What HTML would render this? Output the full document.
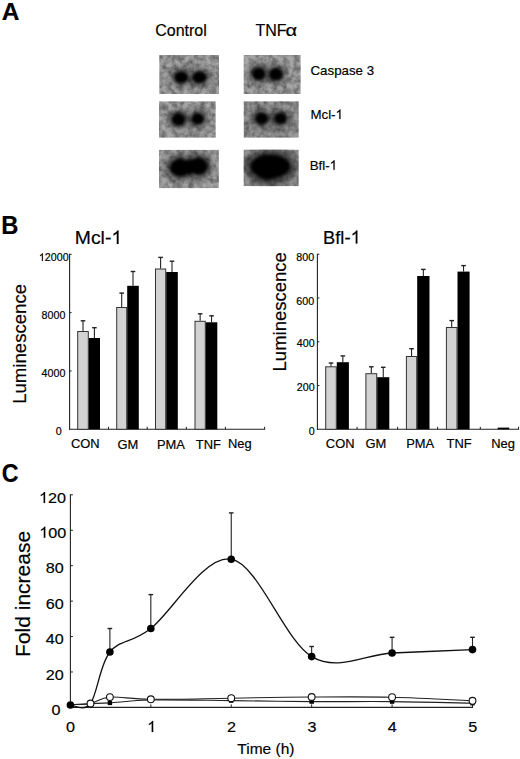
<!DOCTYPE html>
<html><head><meta charset="utf-8"><style>
html,body{margin:0;padding:0;background:#fff;width:520px;height:759px;overflow:hidden}
svg{display:block;font-family:"Liberation Sans",sans-serif}
text{stroke:#000;stroke-width:0.18px}
</style></head><body>
<svg width="520" height="759" viewBox="0 0 520 759">
<defs>
<filter id="blur" x="-50%" y="-50%" width="200%" height="200%"><feGaussianBlur stdDeviation="1.6"/></filter>
<filter id="blur2" x="-50%" y="-50%" width="200%" height="200%"><feGaussianBlur stdDeviation="3"/></filter>
<filter id="noise" x="0" y="0" width="100%" height="100%">
<feTurbulence type="fractalNoise" baseFrequency="0.18" numOctaves="3" seed="3" result="t"/>
<feColorMatrix in="t" type="matrix" values="0 0 0 0 0  0 0 0 0 0  0 0 0 0 0  1.6 0 0 0 -0.5" />
<feComposite in2="SourceGraphic" operator="in"/>
</filter>
</defs>
<rect width="520" height="759" fill="#fff"/>
<text x="1.79" y="19.80" font-size="24.5" font-weight="bold" fill="#000" >A</text>
<text x="155.19" y="35.80" font-size="16" font-weight="normal" fill="#000" >Control</text>
<text x="255.44" y="35.80" font-size="16" font-weight="normal" fill="#000" >TNF</text>
<text transform="translate(285.6,35.8) scale(1.25,1)" font-size="16">α</text>
<clipPath id="cb1"><rect x="159.2" y="55" width="59.80000000000001" height="39"/></clipPath>
<g clip-path="url(#cb1)">
<rect x="159.2" y="55" width="59.80000000000001" height="39" fill="#a6a6a6"/>
<rect x="159.2" y="55" width="59.80000000000001" height="39" fill="#000" opacity="0.48" filter="url(#noise)"/>
<g filter="url(#blur2)" opacity="0.45">
<ellipse cx="181.2" cy="77.2" rx="10.9" ry="9.5" fill="#000"/>
<ellipse cx="199.4" cy="77.2" rx="11.2" ry="9.5" fill="#000"/>
</g>
<g filter="url(#blur)">
<ellipse cx="181.2" cy="77.2" rx="6.9" ry="6.0" fill="#000"/>
<ellipse cx="199.4" cy="77.2" rx="7.2" ry="6.0" fill="#000"/>
</g></g>
<clipPath id="cb2"><rect x="159" y="101.2" width="56.80000000000001" height="36.60000000000001"/></clipPath>
<g clip-path="url(#cb2)">
<rect x="159" y="101.2" width="56.80000000000001" height="36.60000000000001" fill="#a6a6a6"/>
<rect x="159" y="101.2" width="56.80000000000001" height="36.60000000000001" fill="#000" opacity="0.48" filter="url(#noise)"/>
<g filter="url(#blur2)" opacity="0.45">
<ellipse cx="178.5" cy="119.3" rx="10.8" ry="9.7" fill="#000"/>
<ellipse cx="197.7" cy="118.8" rx="10.3" ry="9.3" fill="#000"/>
</g>
<g filter="url(#blur)">
<ellipse cx="178.5" cy="119.3" rx="6.8" ry="6.2" fill="#000"/>
<ellipse cx="197.7" cy="118.8" rx="6.3" ry="5.8" fill="#000"/>
</g></g>
<clipPath id="cb3"><rect x="159" y="149.7" width="59.900000000000006" height="38.60000000000002"/></clipPath>
<g clip-path="url(#cb3)">
<rect x="159" y="149.7" width="59.900000000000006" height="38.60000000000002" fill="#a6a6a6"/>
<rect x="159" y="149.7" width="59.900000000000006" height="38.60000000000002" fill="#000" opacity="0.48" filter="url(#noise)"/>
<g filter="url(#blur2)" opacity="0.5">
<ellipse cx="180.3" cy="167.5" rx="15.3" ry="13.3" fill="#000"/>
<ellipse cx="198.3" cy="166.3" rx="14.3" ry="13.0" fill="#000"/>
<ellipse cx="189.5" cy="167" rx="11" ry="12.0" fill="#000"/>
</g>
<g filter="url(#blur)">
<ellipse cx="180.3" cy="167.5" rx="10.3" ry="8.8" fill="#000"/>
<ellipse cx="198.3" cy="166.3" rx="9.3" ry="8.5" fill="#000"/>
<ellipse cx="189.5" cy="167" rx="6" ry="7.5" fill="#000"/>
</g></g>
<clipPath id="cb4"><rect x="243.5" y="55" width="57.30000000000001" height="39"/></clipPath>
<g clip-path="url(#cb4)">
<rect x="243.5" y="55" width="57.30000000000001" height="39" fill="#a6a6a6"/>
<rect x="243.5" y="55" width="57.30000000000001" height="39" fill="#000" opacity="0.48" filter="url(#noise)"/>
<g filter="url(#blur2)" opacity="0.45">
<ellipse cx="258.8" cy="73.8" rx="10.8" ry="9.8" fill="#000"/>
<ellipse cx="275.8" cy="74.2" rx="10.8" ry="9.8" fill="#000"/>
</g>
<g filter="url(#blur)">
<ellipse cx="258.8" cy="73.8" rx="6.8" ry="6.3" fill="#000"/>
<ellipse cx="275.8" cy="74.2" rx="6.8" ry="6.3" fill="#000"/>
</g></g>
<clipPath id="cb5"><rect x="243.5" y="101.2" width="55.30000000000001" height="36.60000000000001"/></clipPath>
<g clip-path="url(#cb5)">
<rect x="243.5" y="101.2" width="55.30000000000001" height="36.60000000000001" fill="#9a9a9a"/>
<rect x="243.5" y="101.2" width="55.30000000000001" height="36.60000000000001" fill="#000" opacity="0.48" filter="url(#noise)"/>
<g filter="url(#blur2)" opacity="0.45">
<ellipse cx="261.5" cy="118.5" rx="10.4" ry="9.5" fill="#000"/>
<ellipse cx="280.4" cy="118.5" rx="10.3" ry="9.3" fill="#000"/>
</g>
<g filter="url(#blur)">
<ellipse cx="261.5" cy="118.5" rx="6.4" ry="6.0" fill="#000"/>
<ellipse cx="280.4" cy="118.5" rx="6.3" ry="5.8" fill="#000"/>
</g></g>
<clipPath id="cb6"><rect x="243.5" y="149.5" width="55.30000000000001" height="36.80000000000001"/></clipPath>
<g clip-path="url(#cb6)">
<rect x="243.5" y="149.5" width="55.30000000000001" height="36.80000000000001" fill="#999"/>
<rect x="243.5" y="149.5" width="55.30000000000001" height="36.80000000000001" fill="#000" opacity="0.48" filter="url(#noise)"/>
<g filter="url(#blur2)" opacity="0.55">
<ellipse cx="270.3" cy="166.5" rx="26.8" ry="17.8" fill="#000"/>
<ellipse cx="268" cy="167" rx="22" ry="18.5" fill="#000"/>
</g>
<g filter="url(#blur)">
<ellipse cx="270.3" cy="166.5" rx="19.8" ry="11.8" fill="#000"/>
<ellipse cx="268" cy="167" rx="15" ry="12.5" fill="#000"/>
</g></g>
<text x="310.52" y="74.80" font-size="13.3" font-weight="normal" fill="#000" >Caspase 3</text>
<g transform="translate(310.41,119.00) scale(1.0,1)">
<text x="0.000" y="0" font-size="13.3" font-weight="normal" fill="#000">Mcl-</text>
<path transform="translate(25.113,0) scale(0.00649,-0.00649)" d="M763,0 L583,0 L583,1147 C540,1106 483,1065 413,1024 C343,983 280,952 223,931 L223,1105 C323,1152 411,1209 486,1276 C561,1343 614,1409 645,1466 L763,1466 Z" fill="#000" stroke="#000" stroke-width="27.7"/>
</g>
<g transform="translate(309.71,169.80) scale(1.0,1)">
<text x="0.000" y="0" font-size="13.3" font-weight="normal" fill="#000">Bfl-</text>
<path transform="translate(19.950,0) scale(0.00649,-0.00649)" d="M763,0 L583,0 L583,1147 C540,1106 483,1065 413,1024 C343,983 280,952 223,931 L223,1105 C323,1152 411,1209 486,1276 C561,1343 614,1409 645,1466 L763,1466 Z" fill="#000" stroke="#000" stroke-width="27.7"/>
</g>
<text transform="translate(1.31,233.60) scale(0.94,1)" font-size="25.3" font-weight="bold" fill="#000" >B</text>
<g transform="translate(74.81,243.90) scale(1.04,1)">
<text x="0.000" y="0" font-size="18.6" font-weight="normal" fill="#000">Mcl-</text>
<path transform="translate(35.120,0) scale(0.00908,-0.00908)" d="M763,0 L583,0 L583,1147 C540,1106 483,1065 413,1024 C343,983 280,952 223,931 L223,1105 C323,1152 411,1209 486,1276 C561,1343 614,1409 645,1466 L763,1466 Z" fill="#000" stroke="#000" stroke-width="19.8"/>
</g>
<g transform="translate(323.10,243.60) scale(1.0,1)">
<text x="0.000" y="0" font-size="18.3" font-weight="normal" fill="#000">Bfl-</text>
<path transform="translate(27.450,0) scale(0.00894,-0.00894)" d="M763,0 L583,0 L583,1147 C540,1106 483,1065 413,1024 C343,983 280,952 223,931 L223,1105 C323,1152 411,1209 486,1276 C561,1343 614,1409 645,1466 L763,1466 Z" fill="#000" stroke="#000" stroke-width="20.1"/>
</g>
<line x1="69.60" y1="253.80" x2="69.60" y2="429.80" stroke="#222" stroke-width="1.1"/>
<line x1="69.10" y1="429.30" x2="265.10" y2="429.30" stroke="#222" stroke-width="1.1"/>
<line x1="69.60" y1="370.97" x2="71.60" y2="370.97" stroke="#222" stroke-width="1"/>
<line x1="69.60" y1="312.63" x2="71.60" y2="312.63" stroke="#222" stroke-width="1"/>
<line x1="69.60" y1="254.30" x2="71.60" y2="254.30" stroke="#222" stroke-width="1"/>
<line x1="108.50" y1="429.30" x2="108.50" y2="426.80" stroke="#222" stroke-width="1"/>
<line x1="147.20" y1="429.30" x2="147.20" y2="426.80" stroke="#222" stroke-width="1"/>
<line x1="186.30" y1="429.30" x2="186.30" y2="426.80" stroke="#222" stroke-width="1"/>
<line x1="225.40" y1="429.30" x2="225.40" y2="426.80" stroke="#222" stroke-width="1"/>
<line x1="264.60" y1="429.30" x2="264.60" y2="426.80" stroke="#222" stroke-width="1"/>
<line x1="83.00" y1="331.00" x2="83.00" y2="320.80" stroke="#222" stroke-width="1.1"/>
<line x1="80.70" y1="320.80" x2="85.30" y2="320.80" stroke="#222" stroke-width="1.4"/>
<rect x="77.70" y="331.50" width="10.60" height="97.80" fill="#d2d2d2" stroke="#333" stroke-width="1"/>
<line x1="94.40" y1="338.00" x2="94.40" y2="327.70" stroke="#222" stroke-width="1.1"/>
<line x1="92.10" y1="327.70" x2="96.70" y2="327.70" stroke="#222" stroke-width="1.4"/>
<rect x="88.80" y="338.00" width="11.20" height="91.30" fill="#000"/>
<line x1="121.70" y1="307.00" x2="121.70" y2="293.10" stroke="#222" stroke-width="1.1"/>
<line x1="119.40" y1="293.10" x2="124.00" y2="293.10" stroke="#222" stroke-width="1.4"/>
<rect x="116.70" y="307.50" width="10.00" height="121.80" fill="#d2d2d2" stroke="#333" stroke-width="1"/>
<line x1="133.00" y1="285.80" x2="133.00" y2="271.50" stroke="#222" stroke-width="1.1"/>
<line x1="130.70" y1="271.50" x2="135.30" y2="271.50" stroke="#222" stroke-width="1.4"/>
<rect x="127.20" y="285.80" width="11.60" height="143.50" fill="#000"/>
<line x1="160.60" y1="268.50" x2="160.60" y2="257.40" stroke="#222" stroke-width="1.1"/>
<line x1="158.30" y1="257.40" x2="162.90" y2="257.40" stroke="#222" stroke-width="1.4"/>
<rect x="155.50" y="269.00" width="10.20" height="160.30" fill="#d2d2d2" stroke="#333" stroke-width="1"/>
<line x1="172.00" y1="272.00" x2="172.00" y2="261.20" stroke="#222" stroke-width="1.1"/>
<line x1="169.70" y1="261.20" x2="174.30" y2="261.20" stroke="#222" stroke-width="1.4"/>
<rect x="166.20" y="272.00" width="11.60" height="157.30" fill="#000"/>
<line x1="200.15" y1="320.80" x2="200.15" y2="313.80" stroke="#222" stroke-width="1.1"/>
<line x1="197.85" y1="313.80" x2="202.45" y2="313.80" stroke="#222" stroke-width="1.4"/>
<rect x="195.00" y="321.30" width="10.30" height="108.00" fill="#d2d2d2" stroke="#333" stroke-width="1"/>
<line x1="211.55" y1="322.30" x2="211.55" y2="315.80" stroke="#222" stroke-width="1.1"/>
<line x1="209.25" y1="315.80" x2="213.85" y2="315.80" stroke="#222" stroke-width="1.4"/>
<rect x="205.80" y="322.30" width="11.50" height="107.00" fill="#000"/>
<line x1="317.40" y1="253.70" x2="317.40" y2="429.80" stroke="#222" stroke-width="1.1"/>
<line x1="316.90" y1="429.30" x2="519.00" y2="429.30" stroke="#222" stroke-width="1.1"/>
<line x1="317.40" y1="385.52" x2="319.40" y2="385.52" stroke="#222" stroke-width="1"/>
<line x1="317.40" y1="341.75" x2="319.40" y2="341.75" stroke="#222" stroke-width="1"/>
<line x1="317.40" y1="297.98" x2="319.40" y2="297.98" stroke="#222" stroke-width="1"/>
<line x1="317.40" y1="254.20" x2="319.40" y2="254.20" stroke="#222" stroke-width="1"/>
<line x1="357.10" y1="429.30" x2="357.10" y2="426.80" stroke="#222" stroke-width="1"/>
<line x1="397.60" y1="429.30" x2="397.60" y2="426.80" stroke="#222" stroke-width="1"/>
<line x1="437.60" y1="429.30" x2="437.60" y2="426.80" stroke="#222" stroke-width="1"/>
<line x1="480.30" y1="429.30" x2="480.30" y2="426.80" stroke="#222" stroke-width="1"/>
<line x1="518.50" y1="429.30" x2="518.50" y2="426.80" stroke="#222" stroke-width="1"/>
<line x1="331.00" y1="366.30" x2="331.00" y2="363.00" stroke="#222" stroke-width="1.1"/>
<line x1="328.70" y1="363.00" x2="333.30" y2="363.00" stroke="#222" stroke-width="1.4"/>
<rect x="325.70" y="366.80" width="10.60" height="62.50" fill="#d2d2d2" stroke="#333" stroke-width="1"/>
<line x1="342.85" y1="362.20" x2="342.85" y2="355.90" stroke="#222" stroke-width="1.1"/>
<line x1="340.55" y1="355.90" x2="345.15" y2="355.90" stroke="#222" stroke-width="1.4"/>
<rect x="336.80" y="362.20" width="12.10" height="67.10" fill="#000"/>
<line x1="371.30" y1="373.20" x2="371.30" y2="366.80" stroke="#222" stroke-width="1.1"/>
<line x1="369.00" y1="366.80" x2="373.60" y2="366.80" stroke="#222" stroke-width="1.4"/>
<rect x="365.90" y="373.70" width="10.80" height="55.60" fill="#d2d2d2" stroke="#333" stroke-width="1"/>
<line x1="383.25" y1="377.20" x2="383.25" y2="367.30" stroke="#222" stroke-width="1.1"/>
<line x1="380.95" y1="367.30" x2="385.55" y2="367.30" stroke="#222" stroke-width="1.4"/>
<rect x="377.20" y="377.20" width="12.10" height="52.10" fill="#000"/>
<line x1="411.55" y1="356.00" x2="411.55" y2="348.70" stroke="#222" stroke-width="1.1"/>
<line x1="409.25" y1="348.70" x2="413.85" y2="348.70" stroke="#222" stroke-width="1.4"/>
<rect x="406.40" y="356.50" width="10.30" height="72.80" fill="#d2d2d2" stroke="#333" stroke-width="1"/>
<line x1="423.35" y1="276.00" x2="423.35" y2="269.40" stroke="#222" stroke-width="1.1"/>
<line x1="421.05" y1="269.40" x2="425.65" y2="269.40" stroke="#222" stroke-width="1.4"/>
<rect x="417.20" y="276.00" width="12.30" height="153.30" fill="#000"/>
<line x1="451.70" y1="327.00" x2="451.70" y2="320.60" stroke="#222" stroke-width="1.1"/>
<line x1="449.40" y1="320.60" x2="454.00" y2="320.60" stroke="#222" stroke-width="1.4"/>
<rect x="446.40" y="327.50" width="10.60" height="101.80" fill="#d2d2d2" stroke="#333" stroke-width="1"/>
<line x1="463.55" y1="271.60" x2="463.55" y2="265.60" stroke="#222" stroke-width="1.1"/>
<line x1="461.25" y1="265.60" x2="465.85" y2="265.60" stroke="#222" stroke-width="1.4"/>
<rect x="457.50" y="271.60" width="12.10" height="157.70" fill="#000"/>
<rect x="497.70" y="427.60" width="11.50" height="1.70" fill="#000"/>
<g transform="translate(38.86,261.00) scale(1.0,1)">
<path transform="translate(0.000,0) scale(0.00522,-0.00522)" d="M763,0 L583,0 L583,1147 C540,1106 483,1065 413,1024 C343,983 280,952 223,931 L223,1105 C323,1152 411,1209 486,1276 C561,1343 614,1409 645,1466 L763,1466 Z" fill="#000" stroke="#000" stroke-width="34.5"/>
<text x="5.951" y="0" font-size="10.7" font-weight="normal" fill="#000">2000</text>
</g>
<text x="41.61" y="318.70" font-size="10.7" font-weight="normal" fill="#000" >8000</text>
<text x="41.61" y="377.20" font-size="10.7" font-weight="normal" fill="#000" >4000</text>
<text x="55.67" y="435.00" font-size="10.7" font-weight="normal" fill="#000" >0</text>
<text x="296.37" y="261.20" font-size="10.7" font-weight="normal" fill="#000" >800</text>
<text x="296.37" y="304.80" font-size="10.7" font-weight="normal" fill="#000" >600</text>
<text x="296.87" y="347.10" font-size="10.7" font-weight="normal" fill="#000" >400</text>
<text x="296.87" y="390.90" font-size="10.7" font-weight="normal" fill="#000" >200</text>
<text x="308.77" y="434.60" font-size="10.7" font-weight="normal" fill="#000" >0</text>
<text transform="translate(70.94,447.90) scale(1.05,1)" font-size="12.3" font-weight="normal" fill="#000" >CON</text>
<text transform="translate(117.55,449.00) scale(1.05,1)" font-size="12.3" font-weight="normal" fill="#000" >GM</text>
<text transform="translate(156.94,448.50) scale(1.05,1)" font-size="12.3" font-weight="normal" fill="#000" >PMA</text>
<text transform="translate(195.81,449.00) scale(1.05,1)" font-size="12.3" font-weight="normal" fill="#000" >TNF</text>
<text transform="translate(227.94,448.40) scale(1.05,1)" font-size="12.3" font-weight="normal" fill="#000" >Neg</text>
<text transform="translate(325.84,448.00) scale(1.05,1)" font-size="12.3" font-weight="normal" fill="#000" >CON</text>
<text transform="translate(365.55,448.00) scale(1.05,1)" font-size="12.3" font-weight="normal" fill="#000" >GM</text>
<text transform="translate(406.14,448.00) scale(1.05,1)" font-size="12.3" font-weight="normal" fill="#000" >PMA</text>
<text transform="translate(446.61,448.00) scale(1.05,1)" font-size="12.3" font-weight="normal" fill="#000" >TNF</text>
<text transform="translate(491.24,448.00) scale(1.05,1)" font-size="12.3" font-weight="normal" fill="#000" >Neg</text>
<text transform="translate(25.80,403.83) rotate(-90)" font-size="18.6">Luminescence</text>
<text transform="translate(285.80,371.42) rotate(-90)" font-size="18.5">Luminescence</text>
<text transform="translate(1.75,481.90) scale(0.92,1)" font-size="25.3" font-weight="bold" fill="#000" >C</text>
<line x1="70.40" y1="494.20" x2="70.40" y2="707.90" stroke="#222" stroke-width="1.1"/>
<line x1="69.90" y1="707.40" x2="473.00" y2="707.40" stroke="#222" stroke-width="1.1"/>
<line x1="70.40" y1="671.97" x2="72.90" y2="671.97" stroke="#222" stroke-width="1"/>
<line x1="70.40" y1="636.54" x2="72.90" y2="636.54" stroke="#222" stroke-width="1"/>
<line x1="70.40" y1="601.11" x2="72.90" y2="601.11" stroke="#222" stroke-width="1"/>
<line x1="70.40" y1="565.68" x2="72.90" y2="565.68" stroke="#222" stroke-width="1"/>
<line x1="70.40" y1="530.25" x2="72.90" y2="530.25" stroke="#222" stroke-width="1"/>
<line x1="70.40" y1="494.82" x2="72.90" y2="494.82" stroke="#222" stroke-width="1"/>
<line x1="150.82" y1="707.40" x2="150.82" y2="704.40" stroke="#222" stroke-width="1"/>
<line x1="231.24" y1="707.40" x2="231.24" y2="704.40" stroke="#222" stroke-width="1"/>
<line x1="311.66" y1="707.40" x2="311.66" y2="704.40" stroke="#222" stroke-width="1"/>
<line x1="392.08" y1="707.40" x2="392.08" y2="704.40" stroke="#222" stroke-width="1"/>
<line x1="472.50" y1="707.40" x2="472.50" y2="704.40" stroke="#222" stroke-width="1"/>
<g transform="translate(39.05,503.00) scale(1.05,1)">
<path transform="translate(0.000,0) scale(0.00752,-0.00752)" d="M763,0 L583,0 L583,1147 C540,1106 483,1065 413,1024 C343,983 280,952 223,931 L223,1105 C323,1152 411,1209 486,1276 C561,1343 614,1409 645,1466 L763,1466 Z" fill="#000" stroke="#000" stroke-width="23.9"/>
<text x="8.565" y="0" font-size="15.4" font-weight="normal" fill="#000">20</text>
</g>
<g transform="translate(39.25,537.80) scale(1.05,1)">
<path transform="translate(0.000,0) scale(0.00752,-0.00752)" d="M763,0 L583,0 L583,1147 C540,1106 483,1065 413,1024 C343,983 280,952 223,931 L223,1105 C323,1152 411,1209 486,1276 C561,1343 614,1409 645,1466 L763,1466 Z" fill="#000" stroke="#000" stroke-width="23.9"/>
<text x="8.565" y="0" font-size="15.4" font-weight="normal" fill="#000">00</text>
</g>
<text transform="translate(45.65,573.40) scale(1.05,1)" font-size="15.4" font-weight="normal" fill="#000" >80</text>
<text transform="translate(45.65,608.80) scale(1.05,1)" font-size="15.4" font-weight="normal" fill="#000" >60</text>
<text transform="translate(45.65,644.00) scale(1.05,1)" font-size="15.4" font-weight="normal" fill="#000" >40</text>
<text transform="translate(45.65,679.50) scale(1.05,1)" font-size="15.4" font-weight="normal" fill="#000" >20</text>
<text transform="translate(51.44,714.80) scale(1.05,1)" font-size="15.4" font-weight="normal" fill="#000" >0</text>
<text transform="translate(66.10,732.00) scale(1.05,1)" font-size="15.4" font-weight="normal" fill="#000" >0</text>
<g transform="translate(147.13,732.00) scale(1.05,1)">
<path transform="translate(0.000,0) scale(0.00752,-0.00752)" d="M763,0 L583,0 L583,1147 C540,1106 483,1065 413,1024 C343,983 280,952 223,931 L223,1105 C323,1152 411,1209 486,1276 C561,1343 614,1409 645,1466 L763,1466 Z" fill="#000" stroke="#000" stroke-width="23.9"/>
</g>
<text transform="translate(226.94,732.00) scale(1.05,1)" font-size="15.4" font-weight="normal" fill="#000" >2</text>
<text transform="translate(307.41,732.00) scale(1.05,1)" font-size="15.4" font-weight="normal" fill="#000" >3</text>
<text transform="translate(387.83,732.00) scale(1.05,1)" font-size="15.4" font-weight="normal" fill="#000" >4</text>
<text transform="translate(468.22,732.00) scale(1.05,1)" font-size="15.4" font-weight="normal" fill="#000" >5</text>
<text x="237.35" y="754.40" font-size="15.5" font-weight="normal" fill="#000" >Time (h)</text>
<text transform="translate(30.00,656.92) rotate(-90)" font-size="21">Fold increase</text>
<path d="M70.40,704.80 C73.75,704.60 83.92,703.92 90.51,703.60 C97.09,703.28 99.85,703.50 109.90,702.90 C119.95,702.30 130.60,700.38 150.82,700.00 C171.04,699.62 204.43,700.33 231.24,700.60 C258.05,700.87 284.85,701.43 311.66,701.60 C338.47,701.77 365.27,701.33 392.08,701.60 C418.89,701.87 459.10,702.93 472.50,703.20" fill="none" stroke="#222" stroke-width="1.1"/>
<path d="M70.40,704.50 C73.75,704.33 83.92,704.73 90.51,703.50 C97.09,702.27 99.85,697.80 109.90,697.10 C119.95,696.40 130.60,699.12 150.82,699.30 C171.04,699.48 204.43,698.58 231.24,698.20 C258.05,697.82 284.85,697.17 311.66,697.00 C338.47,696.83 365.27,696.57 392.08,697.20 C418.89,697.83 459.10,700.20 472.50,700.80" fill="none" stroke="#222" stroke-width="1.1"/>
<path d="M70.40,705.00 C73.75,704.75 83.92,712.33 90.51,703.50 C97.09,694.67 99.85,664.50 109.90,652.00 C119.95,639.50 130.60,643.97 150.82,628.50 C171.04,613.03 204.43,554.52 231.24,559.20 C258.05,563.88 284.85,640.97 311.66,656.60 C338.47,672.23 365.27,654.17 392.08,653.00 C418.89,651.83 459.10,650.17 472.50,649.60" fill="none" stroke="#111" stroke-width="1.3"/>
<line x1="109.90" y1="652.00" x2="109.90" y2="628.50" stroke="#222" stroke-width="1.1"/>
<line x1="107.60" y1="628.50" x2="112.20" y2="628.50" stroke="#222" stroke-width="1.4"/>
<line x1="150.82" y1="628.50" x2="150.82" y2="594.60" stroke="#222" stroke-width="1.1"/>
<line x1="148.52" y1="594.60" x2="153.12" y2="594.60" stroke="#222" stroke-width="1.4"/>
<line x1="231.24" y1="559.20" x2="231.24" y2="512.90" stroke="#222" stroke-width="1.1"/>
<line x1="228.94" y1="512.90" x2="233.54" y2="512.90" stroke="#222" stroke-width="1.4"/>
<line x1="311.66" y1="656.60" x2="311.66" y2="646.50" stroke="#222" stroke-width="1.1"/>
<line x1="309.36" y1="646.50" x2="313.96" y2="646.50" stroke="#222" stroke-width="1.4"/>
<line x1="392.08" y1="653.00" x2="392.08" y2="637.30" stroke="#222" stroke-width="1.1"/>
<line x1="389.78" y1="637.30" x2="394.38" y2="637.30" stroke="#222" stroke-width="1.4"/>
<line x1="472.50" y1="649.60" x2="472.50" y2="637.30" stroke="#222" stroke-width="1.1"/>
<line x1="470.20" y1="637.30" x2="474.80" y2="637.30" stroke="#222" stroke-width="1.4"/>
<rect x="107.70" y="700.70" width="4.40" height="4.40" fill="#000"/>
<rect x="148.62" y="697.80" width="4.40" height="4.40" fill="#000"/>
<rect x="229.04" y="698.40" width="4.40" height="4.40" fill="#000"/>
<rect x="309.46" y="699.40" width="4.40" height="4.40" fill="#000"/>
<rect x="389.88" y="699.40" width="4.40" height="4.40" fill="#000"/>
<rect x="470.30" y="701.00" width="4.40" height="4.40" fill="#000"/>
<circle cx="90.51" cy="703.50" r="3.4" fill="#fff" stroke="#111" stroke-width="1.1"/>
<circle cx="109.90" cy="697.10" r="3.4" fill="#fff" stroke="#111" stroke-width="1.1"/>
<circle cx="150.82" cy="699.30" r="3.4" fill="#fff" stroke="#111" stroke-width="1.1"/>
<circle cx="231.24" cy="698.20" r="3.4" fill="#fff" stroke="#111" stroke-width="1.1"/>
<circle cx="311.66" cy="697.00" r="3.4" fill="#fff" stroke="#111" stroke-width="1.1"/>
<circle cx="392.08" cy="697.20" r="3.4" fill="#fff" stroke="#111" stroke-width="1.1"/>
<circle cx="472.50" cy="700.80" r="3.4" fill="#fff" stroke="#111" stroke-width="1.1"/>
<circle cx="70.40" cy="705.00" r="3.8" fill="#000"/>
<circle cx="109.90" cy="652.00" r="3.8" fill="#000"/>
<circle cx="150.82" cy="628.50" r="3.8" fill="#000"/>
<circle cx="231.24" cy="559.20" r="3.8" fill="#000"/>
<circle cx="311.66" cy="656.60" r="3.8" fill="#000"/>
<circle cx="392.08" cy="653.00" r="3.8" fill="#000"/>
<circle cx="472.50" cy="649.60" r="3.8" fill="#000"/>
</svg>
</body></html>
